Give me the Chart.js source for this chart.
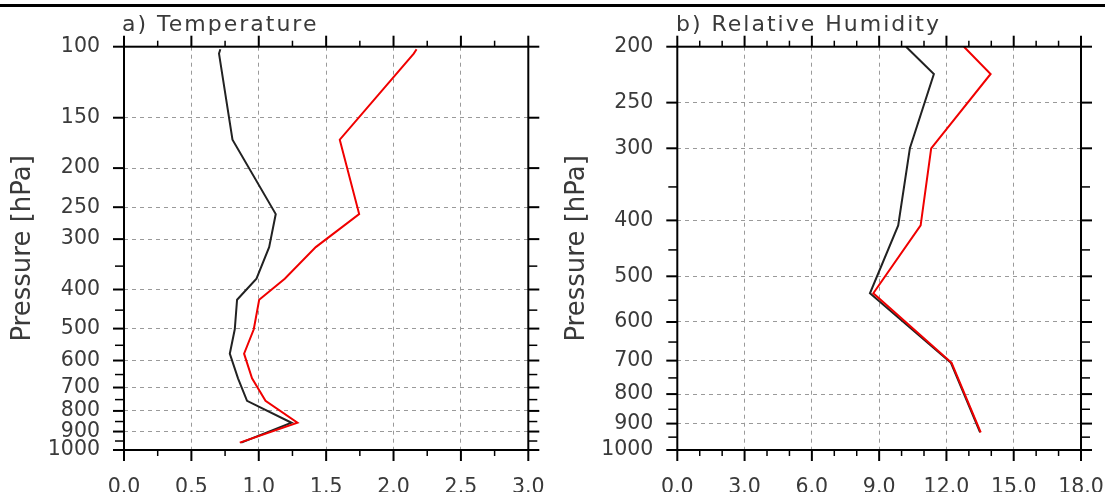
<!DOCTYPE html>
<html><head><meta charset="utf-8">
<script src="https://cdn.jsdelivr.net/npm/chart.js@4.4.0/dist/chart.umd.min.js"></script>
<style>
html,body{margin:0;padding:0;background:#fff;width:1105px;height:492px;overflow:hidden;}
#topline{position:absolute;left:0;top:4px;width:1105px;height:3px;background:#000;}
#c1{position:absolute;left:0;top:0;}
#c2{position:absolute;left:552px;top:0;}
</style></head><body>
<div id="topline"></div>
<canvas id="c1" width="552" height="492"></canvas>
<canvas id="c2" width="553" height="492"></canvas>
<script>
// ---- Panel a) Temperature ----
const tempLevels = [101.5, 104, 170, 260, 314, 376, 424, 502, 577, 664, 755, 856, 959];
const tempBlack  = [0.715, 0.705, 0.805, 1.126, 1.077, 0.983, 0.839, 0.822, 0.785, 0.846, 0.913, 1.243, 0.87];
const tempRed    = [2.171, 2.15, 1.601, 1.745, 1.423, 1.193, 1.003, 0.963, 0.891, 0.950, 1.05, 1.287, 0.859];
const tempXTicks = [0, 0.5, 1.0, 1.5, 2.0, 2.5, 3.0];
const tempXMinor = [0.25, 0.75, 1.25, 1.75, 2.25, 2.75];
const tempYTicks = [100, 150, 200, 250, 300, 400, 500, 600, 700, 800, 900, 1000];
const tempYMinor = [350, 450, 550, 650, 750, 850, 950];

// ---- Panel b) Relative Humidity ----
const rhLevels = [200, 223, 300, 408, 535, 706, 932];
const rhBlack  = [10.2, 11.44, 10.37, 9.85, 8.59, 12.2, 13.5];
const rhRed    = [12.78, 13.97, 11.32, 10.85, 8.74, 12.23, 13.53];
const rhXTicks = [0, 3, 6, 9, 12, 15, 18];
const rhXMinor = [1, 2, 4, 5, 7, 8, 10, 11, 13, 14, 16, 17];
const rhYTicks = [200, 250, 300, 400, 500, 600, 700, 800, 900, 1000];
const rhYMinor = [350, 450, 550, 650, 750, 850, 950];

const FONT = 'DejaVu Sans';
const TXT = '#3a3a3a';
const GRID = '#9a9a9a';

function pts(levels, vals){ return levels.map((p,i)=>({x: vals[i], y: p})); }

function decor(cfg){
  return {
    id: 'decor',
    afterDraw(chart){
      const {ctx, chartArea: a, scales: {x, y}} = chart;
      ctx.save();
      ctx.strokeStyle = '#000';
      ctx.lineCap = 'butt';
      const seg = (x1,y1,x2,y2,w)=>{ctx.lineWidth=w;ctx.beginPath();ctx.moveTo(x1,y1);ctx.lineTo(x2,y2);ctx.stroke();};
      cfg.xMajor.forEach(v=>{const p=x.getPixelForValue(v); seg(p,a.bottom,p,a.bottom+11,2); seg(p,a.top,p,a.top-11,2);});
      cfg.xMinor.forEach(v=>{const p=x.getPixelForValue(v); seg(p,a.bottom,p,a.bottom+6,1.5); seg(p,a.top,p,a.top-6,1.5);});
      cfg.yMajor.forEach(v=>{const p=y.getPixelForValue(v); seg(a.left,p,a.left-11,p,2); seg(a.right,p,a.right+11,p,2);});
      cfg.yMinor.forEach(v=>{const p=y.getPixelForValue(v); seg(a.left,p,a.left-9,p,1.5); seg(a.right,p,a.right+9,p,1.5);});
      ctx.lineWidth = 2;
      ctx.strokeRect(a.left, a.top, a.right-a.left, a.bottom-a.top);
      ctx.fillStyle = TXT;
      ctx.font = '22px "' + FONT + '"';
      ctx.letterSpacing = '2px';
      ctx.textAlign = 'left';
      ctx.textBaseline = 'alphabetic';
      ctx.fillText(cfg.title, cfg.titleX, 31);
      ctx.restore();
    }
  };
}

function makeChart(id, o){
  const gridColor = c => (c.tick && (c.tick.value === o.xMin || c.tick.value === o.xMax)) ? 'rgba(0,0,0,0)' : GRID;
  const gridColorY = c => (c.tick && (c.tick.value === o.yMin || c.tick.value === o.yMax)) ? 'rgba(0,0,0,0)' : GRID;
  const pad = { left: 0, top: o.area.top, right: o.canvasW - o.area.right, bottom: 0 };
  const ch = new Chart(document.getElementById(id), {
    type: 'line',
    data: { datasets: [
      { data: pts(o.levels, o.red), borderColor: '#f00000', borderWidth: 2, pointRadius: 0, tension: 0, fill: false },
      { data: pts(o.levels, o.black), borderColor: '#222222', borderWidth: 2, pointRadius: 0, tension: 0, fill: false }
    ]},
    options: {
      responsive: false, animation: false, devicePixelRatio: 1,
      layout: { padding: pad },
      plugins: { legend: { display: false }, tooltip: { enabled: false } },
      scales: {
        x: {
          type: 'linear', min: o.xMin, max: o.xMax,
          afterFit(s){ s.height = o.xH; s.paddingLeft = 0; s.paddingRight = 0; },
          afterBuildTicks(s){ s.ticks = o.xTicks.map(v=>({value:v})); },
          ticks: { callback: v => Number(v).toFixed(1), font: { family: FONT, size: 20.5 }, color: TXT, padding: 25, maxRotation: 0, autoSkip: false },
          grid: { drawTicks: false, color: gridColor, lineWidth: 1 },
          border: { display: false, dash: [4, 4] }
        },
        y: {
          type: 'logarithmic', reverse: true, min: o.yMin, max: o.yMax,
          afterFit(s){ s.width = o.area.left; s.paddingTop = 0; s.paddingBottom = 0; },
          afterBuildTicks(s){ s.ticks = o.yTicks.map(v=>({value:v})); },
          ticks: { callback: v => String(v), font: { family: FONT, size: 20.5 }, color: TXT, padding: 24, autoSkip: false },
          title: { display: true, text: 'Pressure [hPa]', font: { family: FONT, size: 26 }, color: TXT, padding: { top: o.titlePad, bottom: 0 } },
          grid: { drawTicks: false, color: gridColorY, lineWidth: 1 },
          border: { display: false, dash: [4, 4] }
        }
      }
    },
    plugins: [decor({ xMajor: o.xTicks, xMinor: o.xMinor, yMajor: o.yTicks, yMinor: o.yMinor, title: o.title, titleX: o.titleX })]
  });
  // settle the layout so the plot area lands where intended
  for (let i = 0; i < 4; i++) {
    const a = ch.chartArea;
    const dR = a.right - o.area.right, dT = o.area.top - a.top, dB = a.bottom - o.area.bottom;
    if (Math.abs(dR) < 0.3 && Math.abs(dT) < 0.3 && Math.abs(dB) < 0.3) break;
    const p = ch.config.options.layout.padding;
    p.right += dR; p.top += dT; o.xH += dB;
    ch.update();
  }
  return ch;
}

makeChart('c1', {
  levels: tempLevels, black: tempBlack, red: tempRed,
  xMin: 0, xMax: 3, yMin: 100, yMax: 1000, canvasW: 552, xH: 42,
  area: { left: 124, top: 46.7, right: 528.3, bottom: 450 },
  xTicks: tempXTicks, xMinor: tempXMinor, yTicks: tempYTicks, yMinor: tempYMinor,
  titlePad: 8, title: 'a) Temperature', titleX: 122
});
makeChart('c2', {
  levels: rhLevels, black: rhBlack, red: rhRed,
  xMin: 0, xMax: 18, yMin: 200, yMax: 1000, canvasW: 553, xH: 42,
  area: { left: 125.3, top: 46.7, right: 529, bottom: 450 },
  xTicks: rhXTicks, xMinor: rhXMinor, yTicks: rhYTicks, yMinor: rhYMinor,
  titlePad: 10, title: 'b) Relative Humidity', titleX: 124
});
</script>
</body></html>
